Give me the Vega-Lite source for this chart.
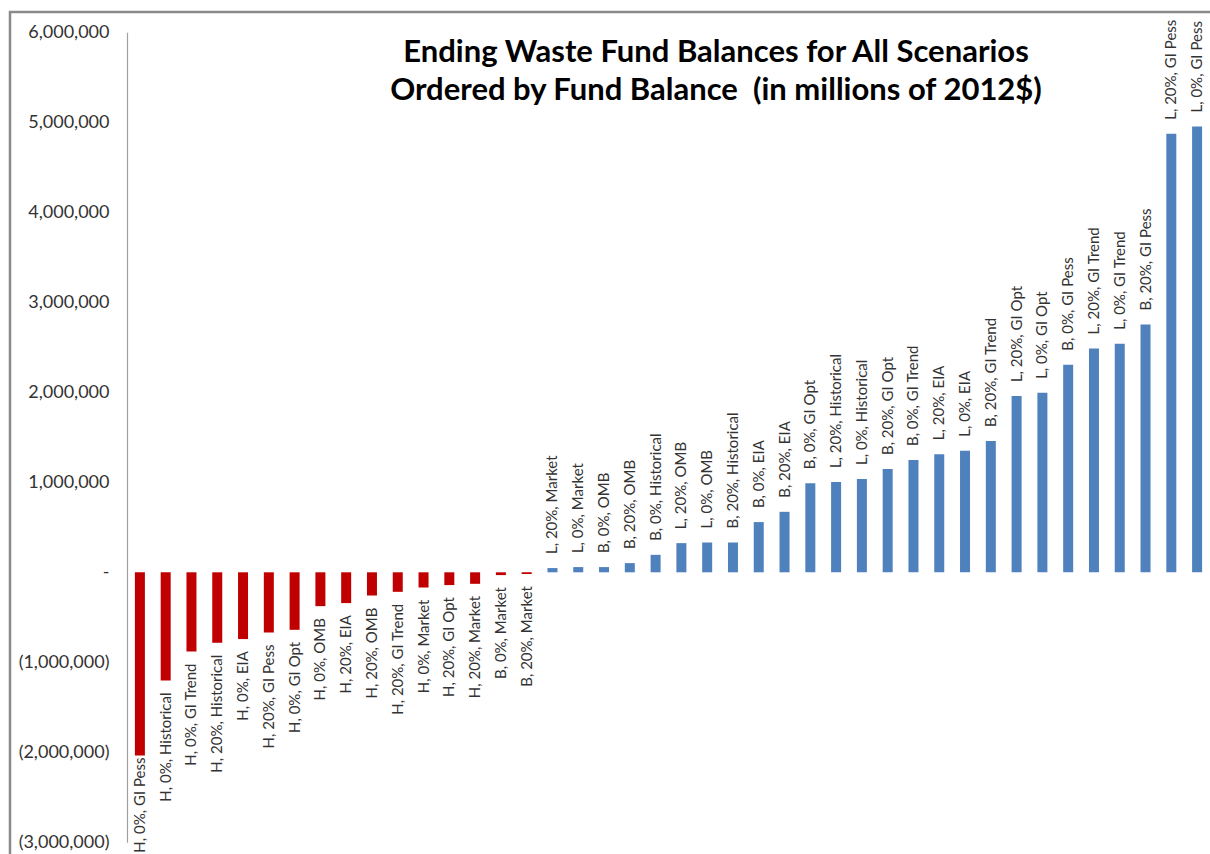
{
  "$schema": "https://vega.github.io/schema/vega-lite/v6.json",
  "autosize": {"type": "none"},
  "padding": {"left": 10, "top": 12, "right": 0, "bottom": 0},
  "width": 1210,
  "height": 850,
  "background": "#ffffff",
  "view": {"stroke": "#8a8a8a", "strokeWidth": 2.5},
  "config": {
    "font": "Lato"
  },
  "title": {
    "text": ["Ending Waste Fund Balances for All Scenarios", "Ordered by Fund Balance\u00a0 (in millions of 2012$)"],
    "anchor": "middle",
    "frame": "group",
    "orient": "top",
    "baseline": "bottom",
    "offset": 0,
    "dx": 101,
    "dy": 126,
    "font": "Lato",
    "fontSize": 31,
    "fontWeight": "bold",
    "lineHeight": 38,
    "color": "#000000"
  },
  "data": {
    "values": [
      {"scenario": "H, 0%, GI Pess", "balance": -2036000},
      {"scenario": "H, 0%, Historical", "balance": -1202000},
      {"scenario": "H, 0%, GI Trend", "balance": -880000},
      {"scenario": "H, 20%, Historical", "balance": -783000},
      {"scenario": "H, 0%, EIA", "balance": -742000},
      {"scenario": "H, 20%, GI Pess", "balance": -669000},
      {"scenario": "H, 0%, GI Opt", "balance": -639000},
      {"scenario": "H, 0%, OMB", "balance": -376000},
      {"scenario": "H, 20%, EIA", "balance": -342000},
      {"scenario": "H, 20%, OMB", "balance": -258000},
      {"scenario": "H, 20%, GI Trend", "balance": -217000},
      {"scenario": "H, 0%, Market", "balance": -169000},
      {"scenario": "H, 20%, GI Opt", "balance": -142000},
      {"scenario": "H, 20%, Market", "balance": -128000},
      {"scenario": "B, 0%, Market", "balance": -31000},
      {"scenario": "B, 20%, Market", "balance": -20000},
      {"scenario": "L, 20%, Market", "balance": 47000},
      {"scenario": "L, 0%, Market", "balance": 58000},
      {"scenario": "B, 0%, OMB", "balance": 58000},
      {"scenario": "B, 20%, OMB", "balance": 102000},
      {"scenario": "B, 0%, Historical", "balance": 194000},
      {"scenario": "L, 20%, OMB", "balance": 324000},
      {"scenario": "L, 0%, OMB", "balance": 331000},
      {"scenario": "B, 20%, Historical", "balance": 331000},
      {"scenario": "B, 0%, EIA", "balance": 558000},
      {"scenario": "B, 20%, EIA", "balance": 672000},
      {"scenario": "B, 0%, GI Opt", "balance": 989000},
      {"scenario": "L, 20%, Historical", "balance": 1002000},
      {"scenario": "L, 0%, Historical", "balance": 1036000},
      {"scenario": "B, 20%, GI Opt", "balance": 1147000},
      {"scenario": "B, 0%, GI Trend", "balance": 1247000},
      {"scenario": "L, 20%, EIA", "balance": 1313000},
      {"scenario": "L, 0%, EIA", "balance": 1350000},
      {"scenario": "B, 20%, GI Trend", "balance": 1458000},
      {"scenario": "L, 20%, GI Opt", "balance": 1958000},
      {"scenario": "L, 0%, GI Opt", "balance": 1994000},
      {"scenario": "B, 0%, GI Pess", "balance": 2306000},
      {"scenario": "L, 20%, GI Trend", "balance": 2487000},
      {"scenario": "L, 0%, GI Trend", "balance": 2539000},
      {"scenario": "B, 20%, GI Pess", "balance": 2753000},
      {"scenario": "L, 20%, GI Pess", "balance": 4872000},
      {"scenario": "L, 0%, GI Pess", "balance": 4953000}
    ]
  },
  "encoding": {
    "x": {
      "field": "scenario",
      "type": "nominal",
      "sort": null,
      "scale": {"type": "band", "range": [117, 1200], "paddingInner": 0.612, "paddingOuter": 0.306},
      "axis": null
    },
    "y": {
      "field": "balance",
      "type": "quantitative",
      "scale": {"domain": [-3000000, 6000000], "range": [830.3, 20.3], "nice": false},
      "axis": {
        "orient": "left",
        "offset": -117,
        "values": [-3000000, -2000000, -1000000, 0, 1000000, 2000000, 3000000, 4000000, 5000000, 6000000],
        "labelExpr": "datum.value == 0 ? '-' : (datum.value < 0 ? '(' + format(-datum.value, ',') + ')' : format(datum.value, ','))",
        "grid": false,
        "ticks": false,
        "domain": true,
        "domainColor": "#a0a0a0",
        "domainWidth": 1.2,
        "labelPadding": 18,
        "labelFont": "Lato",
        "labelFontSize": 18,
        "labelColor": "#333333",
        "title": null
      }
    }
  },
  "layer": [
    {
      "mark": {"type": "bar"},
      "encoding": {
        "color": {
          "condition": {"test": "datum.balance < 0", "value": "#C00000"},
          "value": "#4F81BD"
        }
      }
    },
    {
      "transform": [{"filter": "datum.balance >= 0"}],
      "mark": {"type": "text", "angle": 270, "align": "left", "baseline": "middle", "dx": 14, "font": "Lato", "fontSize": 15, "color": "#333333"},
      "encoding": {"text": {"field": "scenario"}}
    },
    {
      "transform": [{"filter": "datum.balance < 0 && datum.balance > -2000000"}],
      "mark": {"type": "text", "angle": 270, "align": "right", "baseline": "middle", "dx": -12, "font": "Lato", "fontSize": 15, "color": "#333333"},
      "encoding": {"text": {"field": "scenario"}}
    },
    {
      "transform": [{"filter": "datum.balance <= -2000000"}],
      "mark": {"type": "text", "angle": 270, "align": "right", "baseline": "middle", "dx": -2, "font": "Lato", "fontSize": 15, "color": "#333333"},
      "encoding": {"text": {"field": "scenario"}}
    }
  ]
}
